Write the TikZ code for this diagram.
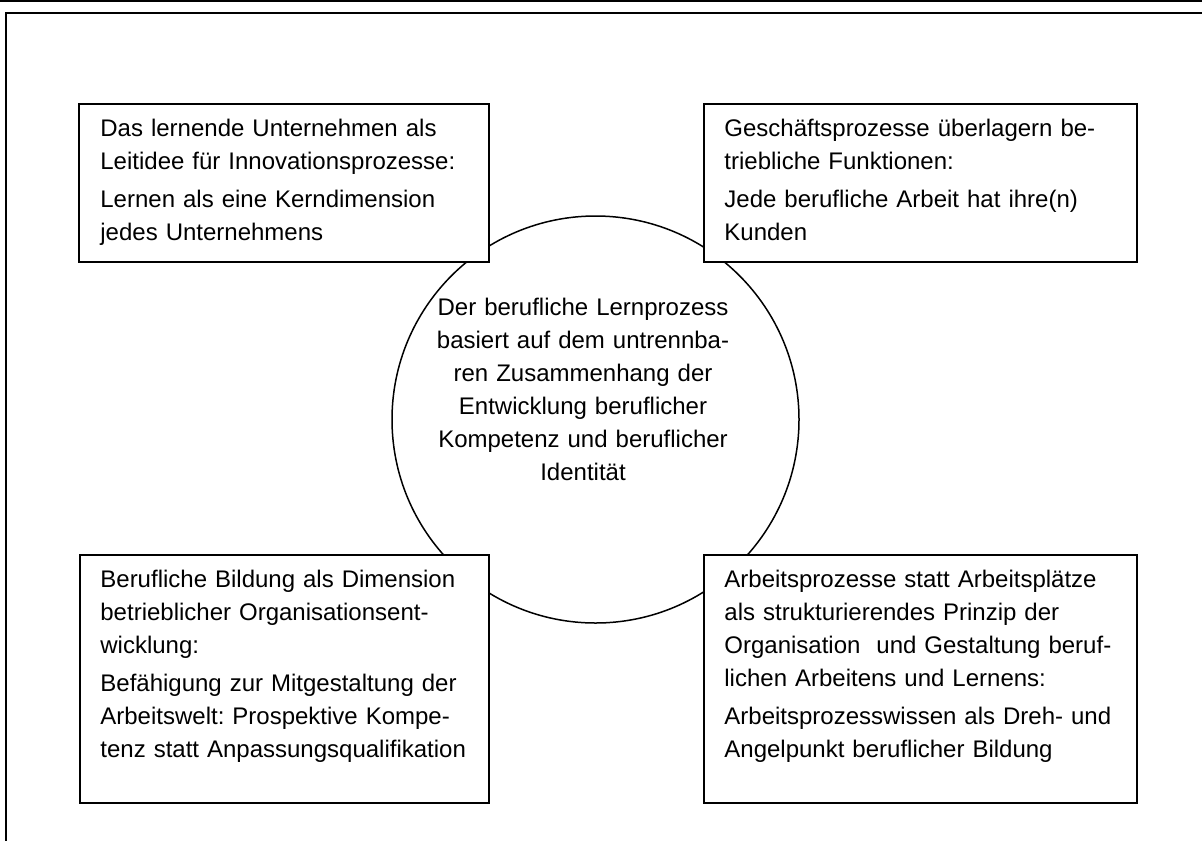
\documentclass[tikz,border=0pt]{standalone}
\usepackage{fontspec}
\setmainfont{Liberation Sans}
\frenchspacing
\begin{document}
\begin{tikzpicture}[x=0.5pt,y=-0.5pt,
  box/.style={draw=black,fill=white,line width=0.75pt,rectangle,inner sep=0pt,anchor=north west},
  txt/.style={inner sep=0pt,text width=200pt,font=\fontsize{12}{16.5}\selectfont}]
\useasboundingbox (0,0) rectangle (1202,841);
\coordinate (m) at (595.5,419.5);
\coordinate (a) at (78,103);
\coordinate (b) at (703,103);
\coordinate (c) at (79,554);
\coordinate (d) at (703,554);
% frame
\draw[line width=0.6pt] (0,1)--(1202,1);
\draw[line width=1pt] (1202,12.5)--(6,12.5)--(6,841);
% middle
\node[draw=black,circle,line width=0.75pt,inner sep=0pt,minimum size=203.5pt] (kreis) at (m) {};
\node[txt,align=center,anchor=base] (kreistext) at (583,315) {Der berufliche Lernprozess\\basiert auf dem untrennba-\\ren Zusammenhang der\\Entwicklung beruflicher\\Kompetenz und beruflicher\\Identität};
% boxes
\node[box,minimum width=205pt,minimum height=79pt] (lo) at (a) {};
\node[box,minimum width=216.5pt,minimum height=79pt] (ro) at (b) {};
\node[box,minimum width=204.5pt,minimum height=124pt] (lu) at (c) {};
\node[box,minimum width=216.5pt,minimum height=124pt] (ru) at (d) {};
\node[txt,align=left,anchor=base west] (lotext) at (100,136) {Das lernende Unternehmen als\\Leitidee für Innovationsprozesse:\\[2.5pt]Lernen als eine Kerndimension\\jedes Unternehmens};
\node[txt,align=left,anchor=base west] (rotext) at (724,136) {Geschäftsprozesse überlagern be-\\triebliche Funktionen:\\[2.5pt]Jede berufliche Arbeit hat ihre(n)\\Kunden};
\node[txt,align=left,anchor=base west] (lutext) at (100,587) {Berufliche Bildung als Dimension\\betrieblicher Organisationsent-\\wicklung:\\[2.5pt]Befähigung zur Mitgestaltung der\\Arbeitswelt: Prospektive Kompe-\\tenz statt Anpassungsqualifikation};
\node[txt,align=left,anchor=base west] (rutext) at (724,587) {Arbeitsprozesse statt Arbeitsplätze\\als strukturierendes Prinzip der\\Organisation\ \ und Gestaltung beruf-\\lichen Arbeitens und Lernens:\\[2.5pt]Arbeitsprozesswissen als Dreh- und\\Angelpunkt beruflicher Bildung};
\end{tikzpicture}
\end{document}
